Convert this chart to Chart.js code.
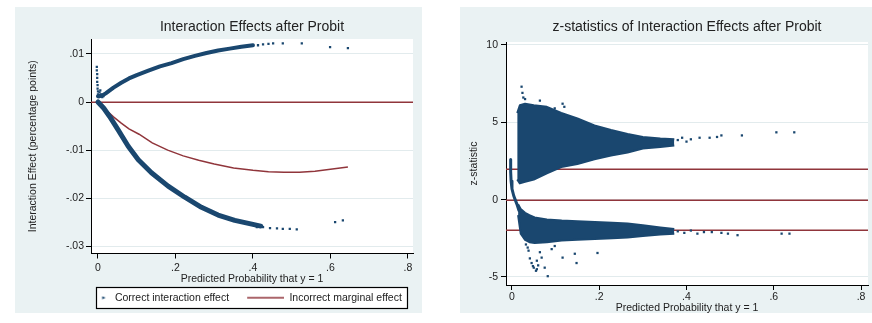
<!DOCTYPE html>
<html>
<head>
<meta charset="utf-8">
<script src="https://cdn.jsdelivr.net/npm/chart.js@4.4.1/dist/chart.umd.min.js"></script>
<style>
  html, body { margin: 0; padding: 0; background: #fff; }
  body { width: 872px; height: 323px; position: relative; overflow: hidden; }
  canvas { position: absolute; top: 7px; background: #eaf2f3; }
  #left { left: 15px; }
  #right { left: 460px; }
</style>
</head>
<body>
<canvas id="left" width="407" height="306"></canvas>
<canvas id="right" width="412" height="306"></canvas>
<script>
// ---- shared axis ----
const probTicks = [0, 0.2, 0.4, 0.6, 0.8];
const probTickLabels = ['0', '.2', '.4', '.6', '.8'];

// ---- left panel: interaction effects after probit ----
const effectTicks = [-0.03, -0.02, -0.01, 0, 0.01];
const effectTickLabels = ['-.03', '-.02', '-.01', '0', '.01'];
const effectRefLines = [0];
const legendLabels = ['Correct interaction effect', 'Incorrect marginal effect'];

// dense positive branch of the correct interaction effect
const upperBandX = [0.000, 0.010, 0.020, 0.040, 0.060, 0.080, 0.100, 0.130, 0.160, 0.190, 0.220, 0.250, 0.280, 0.310, 0.340, 0.370, 0.400];
const upperBandY = [0.0012, 0.0013, 0.0018, 0.0030, 0.0040, 0.0049, 0.0056, 0.0065, 0.0074, 0.0081, 0.0089, 0.0096, 0.0102, 0.0107, 0.0111, 0.0115, 0.0118];
// dense negative branch
const lowerBandX = [0.000, 0.015, 0.030, 0.052, 0.078, 0.104, 0.138, 0.181, 0.224, 0.267, 0.310, 0.353, 0.397, 0.420];
const lowerBandY = [0.0000, -0.0013, -0.0030, -0.0058, -0.0092, -0.0120, -0.0147, -0.0175, -0.0198, -0.0219, -0.0235, -0.0246, -0.0254, -0.0258];
// scattered single observations (spike near 0 and the two tails)
const effectDotsX = [-0.003, -0.003, -0.002, -0.002, -0.002, -0.001, -0.001, 0.000, 0.000, 0.002, 0.004, 0.006, 0.008, 0.011, 0.014,
  0.413, 0.426, 0.440, 0.452, 0.477, 0.526, 0.599, 0.645,
  0.410, 0.426, 0.444, 0.462, 0.477, 0.495, 0.513, 0.612, 0.632];
const effectDotsY = [0.0073, 0.0066, 0.0058, 0.0050, 0.0042, 0.0035, 0.0028, 0.0022, 0.0016, 0.0010, 0.0020, 0.0024, 0.0016, 0.0010, 0.0012,
  0.0118, 0.0120, 0.0121, 0.0122, 0.0122, 0.0122, 0.0114, 0.0112,
  -0.0260, -0.0260, -0.0262, -0.0263, -0.0264, -0.0264, -0.0265, -0.0250, -0.0246];
// incorrect marginal effect
const marginalX = [0.000, 0.020, 0.040, 0.060, 0.080, 0.106, 0.140, 0.180, 0.220, 0.260, 0.300, 0.350, 0.400, 0.440, 0.480, 0.520, 0.560, 0.600, 0.645];
const marginalY = [0.0000, -0.0016, -0.0031, -0.0044, -0.0056, -0.0067, -0.0085, -0.0100, -0.0112, -0.0121, -0.0129, -0.0137, -0.0142, -0.0145, -0.0146, -0.0146, -0.0144, -0.0140, -0.0135];

// ---- right panel: z-statistics ----
const zTicks = [-5, 0, 5, 10];
const zTickLabels = ['-5', '0', '5', '10'];
const zRefLines = [1.96, 0, -1.96];
// envelope of the dense positive cloud
const posBlobX = [0.012, 0.018, 0.030, 0.050, 0.080, 0.113, 0.150, 0.189, 0.227, 0.265, 0.300, 0.340, 0.372];
const posBlobTop = [5.6, 6.1, 6.2, 6.1, 6.0, 5.6, 5.25, 4.8, 4.5, 4.25, 4.05, 3.95, 3.9];
const posBlobBottom = [1.3, 1.05, 1.15, 1.3, 1.7, 2.1, 2.3, 2.6, 2.85, 3.05, 3.3, 3.4, 3.5];
// envelope of the dense negative cloud
const negBlobX = [0.014, 0.020, 0.030, 0.040, 0.052, 0.080, 0.114, 0.150, 0.190, 0.230, 0.265, 0.300, 0.340, 0.372];
const negBlobTop = [-0.3, -0.6, -0.85, -1.0, -1.15, -1.28, -1.35, -1.4, -1.45, -1.5, -1.55, -1.65, -1.8, -1.9];
const negBlobBottom = [-1.0, -2.2, -2.6, -2.75, -2.8, -2.75, -2.65, -2.6, -2.55, -2.5, -2.45, -2.35, -2.25, -2.2];
// thin run of points near p = 0
const zSpikeX = [-0.003, -0.003, -0.002, 0.000, 0.004, 0.008, 0.012, 0.016];
const zSpikeY = [2.6, 1.8, 1.2, 0.7, 0.25, -0.05, -0.35, -0.7];
// isolated observations
const zDotsX = [0.022, 0.024, 0.026, 0.030, 0.064, 0.098, 0.116, 0.120,
  0.380, 0.390, 0.400, 0.410, 0.430, 0.453, 0.470, 0.480, 0.527, 0.606, 0.647,
  0.032, 0.036, 0.038, 0.041, 0.045, 0.048, 0.050, 0.055, 0.057, 0.057, 0.060, 0.064, 0.068, 0.075, 0.082, 0.091, 0.098, 0.116, 0.144, 0.148, 0.196,
  0.380, 0.395, 0.410, 0.425, 0.440, 0.458, 0.480, 0.495, 0.517, 0.618, 0.636];
const zDotsY = [7.3, 6.9, 6.6, 6.5, 6.4, 5.9, 6.2, 6.0,
  3.85, 4.0, 3.75, 3.9, 4.0, 4.0, 4.05, 4.15, 4.15, 4.35, 4.35,
  -2.9, -3.1, -3.3, -3.8, -4.1, -4.3, -4.4, -4.6, -4.5, -3.95, -4.25, -3.4, -3.75, -4.4, -4.95, -3.2, -3.0, -3.75, -3.5, -4.1, -3.45,
  -2.05, -2.15, -2.0, -2.2, -2.1, -2.1, -2.15, -2.2, -2.3, -2.2, -2.2];

// ---- styling ----
const navy = '#1a476f';
const maroon = '#90353b';
const ink = '#222';
const gridColor = '#e2ebed';
Chart.defaults.font.family = '"Liberation Sans", Arial, sans-serif';
Chart.defaults.color = ink;

const pairs = (xs, ys) => xs.map((x, i) => ({ x: x, y: ys[i] }));

function band(xs, ys, width) {
  return { data: pairs(xs, ys), borderColor: navy, borderWidth: width, pointRadius: 0,
    tension: 0, fill: false, borderCapStyle: 'round', borderJoinStyle: 'round' };
}
function dots(xs, ys) {
  return { data: pairs(xs, ys), showLine: false, pointStyle: 'rect', pointRadius: 1.6,
    pointBorderWidth: 0, pointBackgroundColor: navy, pointBorderColor: navy };
}
function edge(xs, ys, fill) {
  return { data: pairs(xs, ys), borderColor: navy, borderWidth: 2, pointRadius: 0, tension: 0,
    fill: fill, backgroundColor: navy, borderJoinStyle: 'round' };
}

// legend samples: 46px wide so the line sample can be long
const sampleWidth = 46;
const markerAt = 38.5;
function makeSample(draw) {
  const c = document.createElement('canvas');
  c.width = sampleWidth;
  c.height = 4;
  draw(c.getContext('2d'));
  return c;
}
const legendSamples = [
  makeSample(g => { g.fillStyle = navy; g.beginPath(); g.moveTo(markerAt, 0.5); g.lineTo(markerAt + 3.5, 2); g.lineTo(markerAt, 3.5); g.closePath(); g.fill(); }),
  makeSample(g => { g.fillStyle = maroon; g.fillRect(9, 1.25, 37, 1.5); })
];

function legendFrame(chart) {
  const lg = chart.legend;
  if (!lg || !lg.options.display || !lg.legendHitBoxes || !lg.legendHitBoxes.length) return null;
  const hb = lg.legendHitBoxes;
  const first = hb[0], last = hb[hb.length - 1];
  const cy = first.top + first.height / 2;
  const x0 = first.left + markerAt - 6;
  const x1 = last.left + last.width + 5;
  return { x: x0, y: cy - 10.5, w: x1 - x0, h: 21 };
}

const panelPlugin = {
  id: 'panel',
  // centre the visible part of the legend row under the plot region
  afterLayout(chart, args, opts) {
    const lg = chart.legend;
    if (!lg || !lg.options.display) return;
    const a = chart.chartArea;
    const shift = (a.left + a.right) / 2 - (lg.left + lg.right) / 2 - markerAt / 2;
    lg.left += shift;
    lg.right += shift;
  },
  beforeDraw(chart) {
    const { ctx, chartArea: a } = chart;
    ctx.save();
    ctx.fillStyle = '#fff';
    ctx.fillRect(a.left, a.top, a.right - a.left, a.bottom - a.top);
    const box = legendFrame(chart);
    if (box) ctx.fillRect(box.x, box.y, box.w, box.h);
    ctx.restore();
  },
  beforeDatasetsDraw(chart, args, opts) {
    const { ctx, chartArea: a, scales } = chart;
    ctx.save();
    ctx.strokeStyle = maroon;
    ctx.lineWidth = 1.5;
    (opts.lines || []).forEach(v => {
      const y = Math.round(scales.y.getPixelForValue(v)) + 0.25;
      ctx.beginPath();
      ctx.moveTo(a.left, y);
      ctx.lineTo(a.right, y);
      ctx.stroke();
    });
    ctx.restore();
  },
  afterDraw(chart) {
    const box = legendFrame(chart);
    if (!box) return;
    const ctx = chart.ctx;
    ctx.save();
    ctx.strokeStyle = '#000';
    ctx.lineWidth = 1.2;
    ctx.strokeRect(Math.round(box.x) + 0.5, Math.round(box.y) + 0.5, Math.round(box.w), Math.round(box.h));
    ctx.restore();
  }
};

function xAxis(min, max, height, tickPad, titlePad) {
  return {
    type: 'linear', min: min, max: max,
    afterBuildTicks: s => { s.ticks = probTicks.map(v => ({ value: v })); },
    afterFit: s => { s.height = height; },
    ticks: { callback: (v, i) => probTickLabels[i], autoSkip: false, maxRotation: 0, padding: tickPad, font: { size: 10.5 } },
    grid: { drawOnChartArea: false, tickColor: '#000', tickLength: 5 },
    border: { display: true, color: '#000', width: 1 },
    title: { display: true, text: 'Predicted Probability that y = 1', font: { size: 10.5 }, padding: { top: 0, bottom: titlePad } }
  };
}
function yAxis(min, max, width, ticks, labels, title, titlePad, tickPad) {
  return {
    type: 'linear', min: min, max: max,
    afterBuildTicks: s => { s.ticks = ticks.map(v => ({ value: v })); },
    afterFit: s => { s.width = width; },
    ticks: { callback: (v, i) => labels[i], padding: tickPad, font: { size: 10.5 } },
    grid: { color: gridColor, tickColor: '#000', tickLength: 5, lineWidth: 1 },
    border: { display: true, color: '#000', width: 1 },
    title: { display: true, text: title, font: { size: 10.5 }, padding: { top: titlePad, bottom: 0 } }
  };
}

new Chart(document.getElementById('left'), {
  type: 'line',
  data: {
    datasets: [
      band(upperBandX, upperBandY, 4),
      band(lowerBandX, lowerBandY, 5),
      dots(effectDotsX, effectDotsY),
      { data: pairs(marginalX, marginalY), borderColor: maroon, borderWidth: 1.5, pointRadius: 0, tension: 0, fill: false }
    ]
  },
  options: {
    responsive: false,
    animation: false,
    events: [],
    layout: { padding: { left: 0, right: 9, top: 0, bottom: 0 } },
    scales: {
      x: xAxis(-0.018, 0.813, 30, 3, -2),
      y: yAxis(-0.0315, 0.0131, 76, effectTicks, effectTickLabels, 'Interaction Effect (percentage points)', 12, 2)
    },
    plugins: {
      title: { display: true, text: 'Interaction Effects after Probit', fullSize: false,
        font: { size: 14, weight: 'normal' }, color: ink, padding: { top: 11.6, bottom: 3.6 } },
      legend: {
        display: true, position: 'bottom', fullSize: true,
        labels: {
          usePointStyle: true, pointStyleWidth: sampleWidth, padding: 9, font: { size: 10.5 }, color: ink,
          generateLabels: () => legendLabels.map((text, i) => ({
            text: text, pointStyle: legendSamples[i], fillStyle: 'transparent', strokeStyle: 'transparent',
            lineWidth: 0, fontColor: ink, hidden: false, datasetIndex: i
          }))
        }
      },
      tooltip: { enabled: false },
      panel: { lines: effectRefLines }
    }
  },
  plugins: [panelPlugin]
});

new Chart(document.getElementById('right'), {
  type: 'line',
  data: {
    datasets: [
      edge(posBlobX, posBlobTop, false),
      edge(posBlobX, posBlobBottom, '-1'),
      edge(negBlobX, negBlobTop, false),
      edge(negBlobX, negBlobBottom, '-1'),
      band(zSpikeX, zSpikeY, 3),
      dots(zDotsX, zDotsY)
    ]
  },
  options: {
    responsive: false,
    animation: false,
    events: [],
    layout: { padding: { left: 0, right: 2, top: 0, bottom: 0 } },
    scales: {
      x: xAxis(-0.0137, 0.816, 28, 1, -1.5),
      y: yAxis(-5.52, 10.19, 46, zTicks, zTickLabels, 'z-statistic', 8, 3)
    },
    plugins: {
      title: { display: true, text: 'z-statistics of Interaction Effects after Probit', fullSize: false,
        font: { size: 14, weight: 'normal' }, color: ink, padding: { top: 11.6, bottom: 6.6 } },
      legend: { display: false },
      tooltip: { enabled: false },
      panel: { lines: zRefLines }
    }
  },
  plugins: [panelPlugin]
});
</script>
</body>
</html>
